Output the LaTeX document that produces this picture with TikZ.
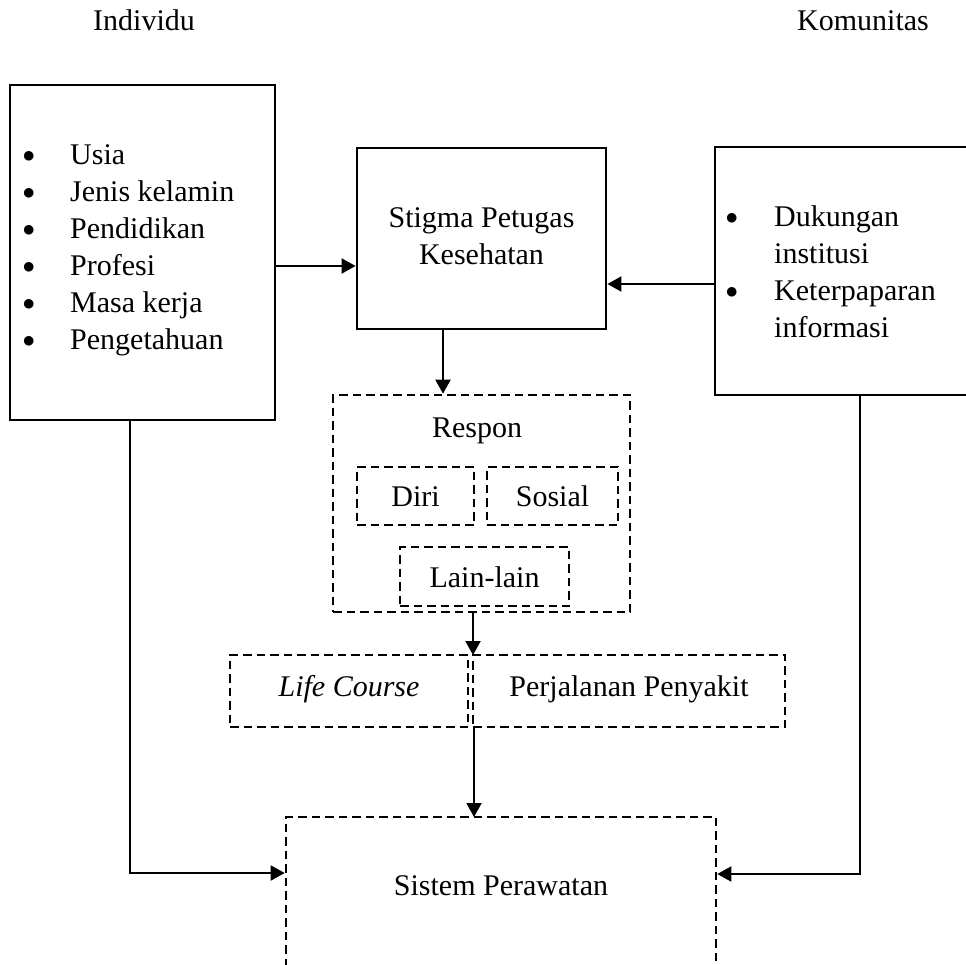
\documentclass[tikz,border=0pt]{standalone}
\usepackage{fontspec}
\setmainfont{Liberation Serif}
\usetikzlibrary{arrows.meta}
\newcommand{\bul}{\raisebox{2.5pt}{$\bullet$}}
\begin{document}
\begin{tikzpicture}[x=1pt,y=-1pt,
  every node/.style={font=\fontsize{30}{37}\selectfont, inner sep=0pt},
  solidbox/.style={draw, line width=2.8pt, rectangle},
  dashbox/.style={draw, line width=2.6pt, dash pattern=on 8.5pt off 5pt, rectangle},
  onetext/.style={text height=21pt, text depth=0pt},
  lowtext/.style={text height=21pt, text depth=11pt},
  arr/.style={line width=2pt, -{Triangle[length=14pt,width=15pt]}}]
\useasboundingbox (0,0) rectangle (966,964);
\clip (0,0) rectangle (966,964);

\node[onetext] (indiv) at (144,19.5) {Individu};
\node[onetext] (komun) at (863,19.5) {Komunitas};

\node[solidbox, minimum width=265pt, minimum height=335pt] (left) at (142.5,252.5) {};
\node[anchor=west] (leftlist) at (22.5,250) {\begin{tabular}{@{}l@{}}
\makebox[47.5pt][l]{\bul}Usia\\
\makebox[47.5pt][l]{\bul}Jenis kelamin\\
\makebox[47.5pt][l]{\bul}Pendidikan\\
\makebox[47.5pt][l]{\bul}Profesi\\
\makebox[47.5pt][l]{\bul}Masa kerja\\
\makebox[47.5pt][l]{\bul}Pengetahuan
\end{tabular}};

\node[solidbox, minimum width=249pt, minimum height=181pt] (stigma) at (481.5,238.5)
  {\begin{tabular}{@{}c@{}}Stigma Petugas\\Kesehatan\end{tabular}};

\node[solidbox, minimum width=275pt, minimum height=248pt] (right) at (852.5,271) {};
\node[anchor=west] (rightlist) at (725.5,275) {\begin{tabular}{@{}l@{}}
\makebox[48.5pt][l]{\bul}Dukungan\\
\makebox[48.5pt][l]{}institusi\\
\makebox[48.5pt][l]{\bul}Keterpaparan\\
\makebox[48.5pt][l]{}informasi
\end{tabular}};

\node[dashbox, minimum width=297pt, minimum height=217pt] (respon) at (481.5,503.5) {};
\node[onetext] (responlbl) at (477,426.5) {Respon};
\node[dashbox, onetext, minimum width=117pt, minimum height=58pt] (diri) at (415.5,496) {Diri};
\node[dashbox, onetext, minimum width=131pt, minimum height=58pt] (sosial) at (552.5,496) {Sosial};
\node[dashbox, onetext, minimum width=169pt, minimum height=59pt] (lain) at (484.5,576.5) {Lain-lain};

\node[dashbox, lowtext, minimum width=238pt, minimum height=72pt] (life) at (349,691) {\textit{Life Course}};
\node[dashbox, lowtext, minimum width=312pt, minimum height=72pt] (perj) at (629,691) {Perjalanan Penyakit};

\node[dashbox, minimum width=430pt, minimum height=200pt] (sistem) at (501,917) {};
\node[onetext] (sistemlbl) at (501,884.5) {Sistem Perawatan};

\coordinate (j1) at (473,655);
\coordinate (j2) at (474,817);

\draw[arr] ([yshift=-13.5pt]left.east) -- ([yshift=-13.5pt]left.east -| stigma.west);
\draw[arr] ([yshift=-13pt]right.west) -- ([yshift=-13pt]right.west -| stigma.east);
\draw[arr] ([xshift=-38.5pt]stigma.south) -- ([xshift=-38.5pt]stigma.south |- respon.north);
\draw[arr] (respon.south -| j1) -- (j1);
\draw[arr] (j2 |- perj.south) -- (j2);
\draw[arr] ([xshift=-12.5pt]left.south) |- ([yshift=44pt]sistem.west);
\draw[arr] ([xshift=7pt]right.south) |- ([yshift=43pt]sistem.east);
\end{tikzpicture}
\end{document}
